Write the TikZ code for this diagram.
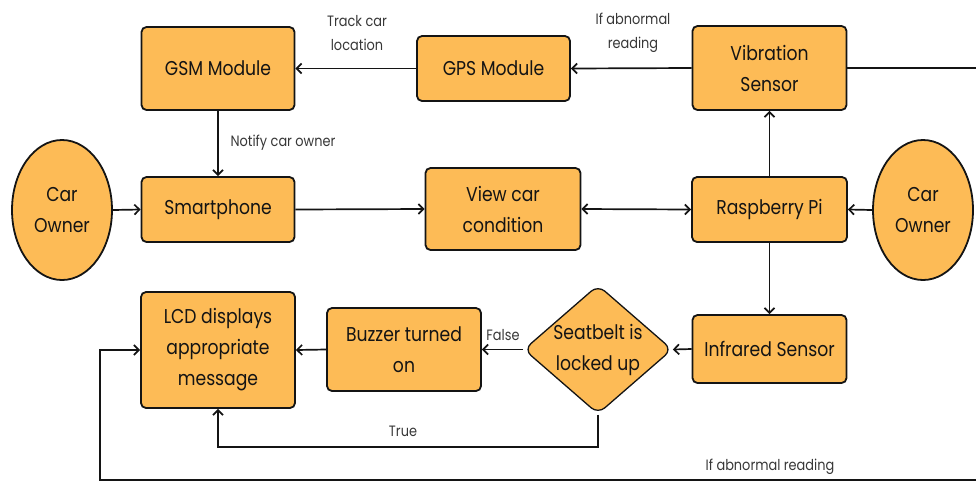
\documentclass[tikz,border=0pt]{standalone}
\usepackage{fontspec}
\setmainfont{Poppins}[FakeStretch=0.86]
\usetikzlibrary{shapes.geometric,arrows.meta}
\definecolor{boxfill}{RGB}{253,187,86}
\definecolor{ink}{RGB}{20,20,20}
\begin{document}
\begin{tikzpicture}[x=1pt,y=-1pt,
  box/.style={draw=ink,line width=1.8pt,fill=boxfill,rounded corners=5pt,align=center,
    font=\fontsize{20}{31}\selectfont,text=ink,inner sep=0pt},
  owner/.style={draw=ink,line width=1.8pt,fill=boxfill,ellipse,align=center,
    font=\fontsize{20}{31}\selectfont,text=ink,inner sep=0pt,minimum width=100pt,minimum height=140pt},
  decide/.style={draw=ink,line width=1.3pt,fill=boxfill,diamond,rounded corners=9pt,align=center,
    font=\fontsize{20}{31}\selectfont,text=ink,inner sep=0pt,shape aspect=1.15,minimum width=144pt,minimum height=125pt},
  conn/.style={draw=ink,line width=1.7pt},
  arr/.style={conn,-{Straight Barb[length=5pt,width=10pt,line width=1.7pt]}},
  lbl/.style={font=\fontsize{15}{24}\selectfont,text=ink!85,align=center}]
\useasboundingbox (0,0) rectangle (976,483);

\node[box,minimum width=153pt,minimum height=83pt] (gsm) at (218,68.5) {GSM Module};
\node[box,minimum width=153pt,minimum height=65pt] (gps) at (493.5,68.5) {GPS Module};
\node[box,minimum width=154pt,minimum height=84pt] (vib) at (769.5,68) {Vibration\\Sensor};
\node[box,minimum width=153pt,minimum height=65pt] (phone) at (218,209.5) {Smartphone};
\node[box,minimum width=155pt,minimum height=82pt] (view) at (503,209) {View car\\condition};
\node[box,minimum width=155pt,minimum height=65pt] (rpi) at (769.5,209.5) {Raspberry Pi};
\node[box,minimum width=154pt,minimum height=116pt] (lcd) at (218,350) {LCD displays\\appropriate\\message};
\node[box,minimum width=154pt,minimum height=83pt] (buzz) at (404,349.5) {Buzzer turned\\on};
\node[decide] (belt) at (598,349.5) {Seatbelt is\\locked up};
\node[box,minimum width=154pt,minimum height=68pt] (ir) at (769.5,349) {Infrared Sensor};
\node[owner] (ownL) at (62,210) {Car\\Owner};
\node[owner] (ownR) at (923,210) {Car\\Owner};

\coordinate (edgeR) at (976,68);
\coordinate (loopR) at (976,480);
\coordinate (loopL) at (100,480);
\coordinate (trueB) at (598,447);

\draw[arr] (vib.west) -- (gps.east);
\draw[arr] (gps.west) -- (gsm.east);
\draw[arr] (gsm.south) -- (phone.north);
\draw[arr] (ownL.east) -- (phone.west);
\draw[arr] (phone.east) -- (view.west);
\draw[conn,{Straight Barb[length=5pt,width=10pt,line width=1.7pt]}-{Straight Barb[length=5pt,width=10pt,line width=1.7pt]}] (view.east) -- (rpi.west);
\draw[arr] (ownR.west) -- (rpi.east);
\draw[arr] (rpi.north) -- (vib.south);
\draw[arr] (rpi.south) -- (ir.north);
\draw[arr] (ir.west) -- (belt.east);
\draw[arr] (belt.west) -- (buzz.east);
\draw[arr] (buzz.west) -- (lcd.east);
\draw[arr] (belt.south) -- (trueB) -| (lcd.south);
\draw[conn] (vib.east) -- (edgeR);
\draw[arr] (loopR) -- (loopL) |- (lcd.west);

\node[lbl] (l1) at (357,33) {Track car\\location};
\node[lbl] (l2) at (633,33) {If abnormal\\reading};
\node[lbl,anchor=west] (l3) at (227,143) {Notify car owner};
\node[lbl] (l4) at (503,335) {False};
\node[lbl] (l5) at (403,431) {True};
\node[lbl] (l6) at (770,467) {If abnormal reading};
\end{tikzpicture}
\end{document}
